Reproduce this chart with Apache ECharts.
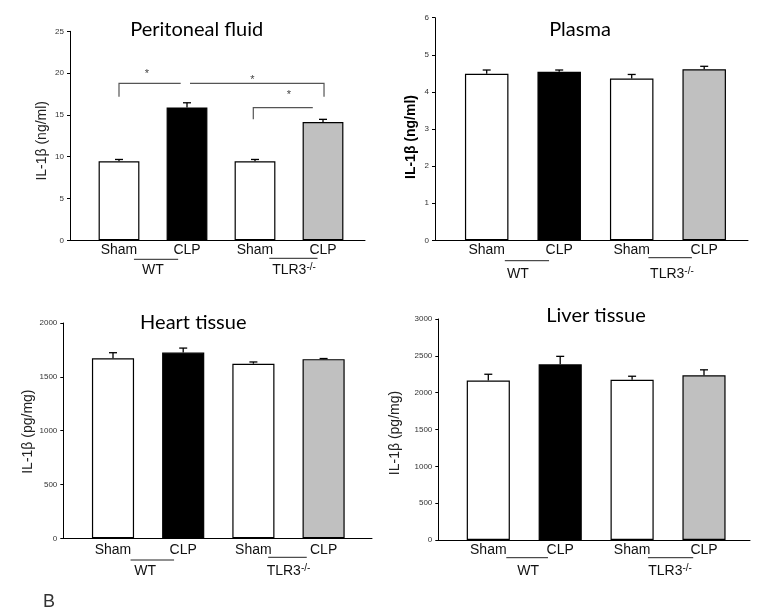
<!DOCTYPE html>
<html><head><meta charset="utf-8">
<script src="https://cdn.jsdelivr.net/npm/echarts@6/dist/echarts.min.js"></script>
<style>html,body{margin:0;padding:0;background:#fff}#c{width:767px;height:616px}</style>
</head><body><div id="c"></div>
<script>
// ---- data ----
const categories = ['Sham', 'CLP', 'Sham', 'CLP'];
const groups = ['WT', 'TLR3-/-'];
const titles = ['Peritoneal fluid', 'Plasma', 'Heart tissue', 'Liver tissue'];
const yNames = ['IL-1β (ng/ml)', 'IL-1β (ng/ml)', 'IL-1β (pg/mg)', 'IL-1β (pg/mg)'];
const peritonealValues = [9.45, 15.9, 9.45, 14.15];
const peritonealErrors = [0.22, 0.55, 0.22, 0.32];
const plasmaValues = [4.49, 4.54, 4.36, 4.61];
const plasmaErrors = [0.10, 0.05, 0.11, 0.08];
const heartValues = [1672, 1725, 1622, 1664];
const heartErrors = [52, 42, 16, 6];
const liverValues = [2165, 2385, 2175, 2235];
const liverErrors = [85, 108, 48, 75];
const peritonealTicks = [0, 25, 5];
const plasmaTicks = [0, 6, 1];
const heartTicks = [0, 2000, 500];
const liverTicks = [0, 3000, 500];
const peritonealComparisons = [[0, 1], [1, 3], [2, 3]];
const comparisonMarks = ['*', '*', '*'];
const panelLetter = 'B';

// ---- styles / layout ----
const barColors = ['#ffffff', '#000000', '#ffffff', '#c0c0c0'];
const AX = 'Liberation Sans';
const panels = [
  {values: peritonealValues, errors: peritonealErrors, ticks: peritonealTicks,
   axisX: 70, axisEnd: 365, top: 31.3, bottom: 240.3, c0: 119, band: 68,
   titleX: 196.7, titleY: 29.3, nameGap: 21, nameShift: 5, nameBold: false,
   labelMargin: 3, groupMargin: 22, groupDx: [0, 5],
   underlines: [[0.22, 0.87, 19], [2.21, 2.92, 18]]},
  {values: plasmaValues, errors: plasmaErrors, ticks: plasmaTicks,
   axisX: 435, axisEnd: 748, top: 17.7, bottom: 240.3, c0: 486.7, band: 72.5,
   titleX: 580, titleY: 30, nameGap: 17, nameShift: 8, nameBold: true,
   labelMargin: 3, groupMargin: 26, groupDx: [-5, 4],
   underlines: [[0.25, 0.86, 20.4], [2.23, 2.83, 17.4]]},
  {values: heartValues, errors: heartErrors, ticks: heartTicks,
   axisX: 63.3, axisEnd: 372, top: 323, bottom: 538.3, c0: 113, band: 70.2,
   titleX: 193.3, titleY: 323, nameGap: 25, nameShift: 1, nameBold: false,
   labelMargin: 5, groupMargin: 25, groupDx: [-3, 0],
   underlines: [[0.25, 0.87, 21.7], [2.21, 2.76, 19]]},
  {values: liverValues, errors: liverErrors, ticks: liverTicks,
   axisX: 438.3, axisEnd: 750, top: 319, bottom: 540, c0: 488.3, band: 71.9,
   titleX: 596, titleY: 316, nameGap: 36, nameShift: 3.5, nameBold: false,
   labelMargin: 3, groupMargin: 23, groupDx: [4, 2],
   underlines: [[0.25, 0.83, 17.7], [2.22, 2.85, 17.7]]}
];
// bracket layout for peritoneal comparisons (category fraction / value units)
const bracketLayout = [
  {a: 0.0, b: 0.907, y: 18.78, side: 'left', tickTo: 17.18, sx: 0.41, sy: 20.25},
  {a: 1.044, b: 3.015, y: 18.78, side: 'right', tickTo: 17.18, sx: 1.96, sy: 19.57},
  {a: 1.975, b: 2.85, y: 15.86, side: 'left', tickTo: 14.47, sx: 2.5, sy: 17.7}
];

const grid = [], xAxis = [], yAxis = [], series = [], graphic = [];

function errRender(params, api) {
  const x = api.value(0), v = api.value(1), e = api.value(2);
  const p0 = api.coord([x, v]), p1 = api.coord([x, v + e]);
  const cap = 4;
  return {type: 'group', children: [
    {type: 'line', shape: {x1: p0[0], y1: p0[1], x2: p1[0], y2: p1[1]}, style: {stroke: '#000', lineWidth: 1.3}},
    {type: 'line', shape: {x1: p1[0] - cap, y1: p1[1], x2: p1[0] + cap, y2: p1[1]}, style: {stroke: '#000', lineWidth: 1.3}}
  ]};
}

panels.forEach((L, k) => {
  const [ymin, ymax, ystep] = L.ticks;
  const gA = grid.length;
  grid.push({left: L.axisX, top: L.top, width: L.axisEnd - L.axisX, height: L.bottom - L.top});
  const gB = grid.length;
  grid.push({left: L.c0 - L.band / 2, top: L.top, width: L.band * 4, height: L.bottom - L.top});

  xAxis.push({gridIndex: gA, type: 'value', min: 0, max: 1, position: 'bottom',
    axisLine: {show: true, onZero: false, lineStyle: {color: '#000', width: 1}},
    axisTick: {show: false}, axisLabel: {show: false}, splitLine: {show: false}});
  const sh = L.nameShift * 2;
  yAxis.push({gridIndex: gA, type: 'value', min: ymin, max: ymax, interval: ystep,
    axisLine: {show: true, lineStyle: {color: '#000', width: 1}},
    axisTick: {show: true, length: 3, lineStyle: {color: '#000', width: 1}},
    axisLabel: {fontSize: 8, margin: 6, color: '#333', fontFamily: AX, formatter: v => String(v)},
    splitLine: {show: false},
    name: yNames[k], nameLocation: 'middle', nameRotate: 90, nameGap: L.nameGap,
    nameTextStyle: {fontFamily: AX, fontSize: 14, lineHeight: 14,
      fontWeight: L.nameBold ? 'bold' : 'normal', color: L.nameBold ? '#000' : '#222',
      padding: [0, sh, 0, 0]}});

  const xb = xAxis.length;
  xAxis.push({gridIndex: gB, type: 'category', data: categories, position: 'bottom',
    axisLine: {show: false}, axisTick: {show: false}, splitLine: {show: false},
    axisLabel: {interval: 0, margin: L.labelMargin, fontSize: 14, lineHeight: 14,
      color: '#111', fontFamily: AX}});
  const d0 = L.groupDx[0], d1 = L.groupDx[1];
  xAxis.push({gridIndex: gB, type: 'category', data: groups, position: 'bottom',
    axisLine: {show: false}, axisTick: {show: false}, splitLine: {show: false},
    axisLabel: {interval: 0, margin: L.groupMargin,
      formatter: (v, i) => i === 0 ? '{w|' + v + '}' : '{t|' + v.replace('-/-', '') + '}{s|-/-}',
      rich: {
        w: {fontSize: 14, lineHeight: 16, color: '#111', fontFamily: AX,
            padding: d0 >= 0 ? [0, 0, 0, 2 * d0] : [0, -2 * d0, 0, 0]},
        t: {fontSize: 14, lineHeight: 16, color: '#111', fontFamily: AX,
            padding: d1 >= 0 ? [0, 0, 0, 2 * d1] : [0, 0, 0, 0]},
        s: {fontSize: 10, lineHeight: 8, verticalAlign: 'top', color: '#111', fontFamily: AX,
            padding: d1 < 0 ? [0, -2 * d1, 0, 0] : [0, 0, 0, 0]}
      }}});
  const yb = yAxis.length;
  yAxis.push({gridIndex: gB, type: 'value', min: ymin, max: ymax, show: false});

  series.push({type: 'bar', xAxisIndex: xb, yAxisIndex: yb, barWidth: '60%',
    data: L.values.map((v, i) => ({value: v, itemStyle: {color: barColors[i]}})),
    itemStyle: {borderColor: '#000', borderWidth: 1.2}, silent: true, animation: false});
  series.push({type: 'custom', xAxisIndex: xb, yAxisIndex: yb, z: 5, animation: false,
    data: L.values.map((v, i) => [i, v, L.errors[i]]), encode: {x: 0, y: 1},
    renderItem: errRender});
  series.push({type: 'custom', xAxisIndex: xb, yAxisIndex: yb, z: 5, animation: false, clip: false,
    data: L.underlines.map((u, i) => [i * 2, 0]), encode: {x: 0, y: 1},
    renderItem: (params, api) => {
      const u = L.underlines[params.dataIndex];
      const a = api.coord([0, 0]), b = api.coord([1, 0]);
      const band = b[0] - a[0];
      const y = a[1] + u[2];
      return {type: 'line', shape: {x1: a[0] + u[0] * band, y1: y, x2: a[0] + u[1] * band, y2: y},
        style: {stroke: '#222', lineWidth: 1}};
    }});
  if (k === 0) {
    series.push({type: 'custom', xAxisIndex: xb, yAxisIndex: yb, z: 6, animation: false, clip: false,
      data: peritonealComparisons.map((c, i) => [c[0], bracketLayout[i].y]), encode: {x: 0, y: 1},
      renderItem: (params, api) => {
        const B = bracketLayout[params.dataIndex];
        const a0 = api.coord([0, 0]), a1 = api.coord([1, 0]);
        const band = a1[0] - a0[0];
        const X = f => a0[0] + f * band;
        const Y = v => api.coord([0, v])[1];
        const pts = B.side === 'left'
          ? [[X(B.a), Y(B.tickTo)], [X(B.a), Y(B.y)], [X(B.b), Y(B.y)]]
          : [[X(B.a), Y(B.y)], [X(B.b), Y(B.y)], [X(B.b), Y(B.tickTo)]];
        return {type: 'group', children: [
          {type: 'polyline', shape: {points: pts}, style: {stroke: '#555', lineWidth: 1.2, fill: null}},
          {type: 'text', x: X(B.sx), y: Y(B.sy) + 3,
            style: {text: comparisonMarks[params.dataIndex], fill: '#444', font: '11px "Liberation Sans"',
              align: 'center', verticalAlign: 'middle'}}
        ]};
      }});
  }
  graphic.push({type: 'text', x: L.titleX, y: L.titleY,
    style: {text: titles[k], font: '20px Lato', fill: '#000', align: 'center', verticalAlign: 'middle'}});
});
graphic.push({type: 'text', x: 43, y: 602,
  style: {text: panelLetter, font: '18px "Liberation Sans"', fill: '#333', align: 'left', verticalAlign: 'middle'}});

const chart = echarts.init(document.getElementById('c'));
chart.setOption({backgroundColor: '#fff', animation: false, grid, xAxis, yAxis, series, graphic});
</script>
</body></html>
